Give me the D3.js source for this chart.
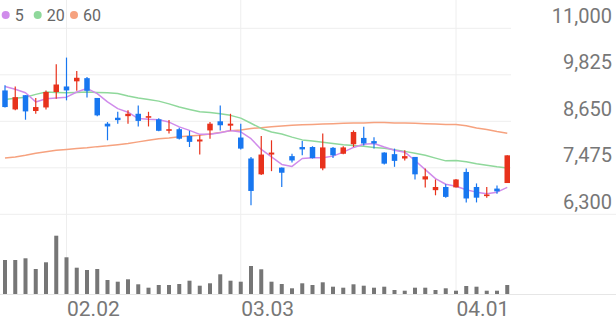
<!DOCTYPE html>
<html>
<head>
<meta charset="utf-8">
<script src="https://cdn.jsdelivr.net/npm/d3@7"></script>
<style>
    html, body { margin: 0; padding: 0; background: #fff; }
    svg { display: block; font-family: Roboto, "Noto Sans", sans-serif; }
</style>
</head>
<body>
<svg id="stock-chart"></svg>
<script>
/*--------------------------------------------------------------------------------
----- DAILY CANDLE CHART (price with moving averages + volume)
--------------------------------------------------------------------------------*/

// Trading days shown on the chart
const dates = [
    "01.23", "01.26", "01.27", "01.28", "01.29", "01.30",
    "02.02", "02.03", "02.04", "02.05", "02.06",
    "02.09", "02.10", "02.11", "02.12", "02.13",
    "02.19", "02.20",
    "02.23", "02.24", "02.25", "02.26", "02.27",
    "03.03", "03.04", "03.05", "03.06",
    "03.09", "03.10", "03.11", "03.12", "03.13",
    "03.16", "03.17", "03.18", "03.19", "03.20",
    "03.23", "03.24", "03.25", "03.26", "03.27",
    "03.30", "03.31",
    "04.01", "04.02", "04.03",
    "04.06", "04.07", "04.08"
];

// Daily prices (open, high, low, close)
const open_prices = [
    9430, 8950, 9310, 8910, 9000, 9390, 9530, 9660, 9740, 9240,
    8590, 8740, 8780, 8840, 8740, 8700, 8410, 8450, 8280, 8140,
    8420, 8650, 8540, 8240, 7710, 7310, 7810, 7480, 7770, 8000,
    8000, 7460, 7980, 7830, 8070, 8230, 8150, 7860, 7820, 7710,
    7750, 7180, 6910, 6990, 6980, 7370, 6990, 6760, 6950, 7090
];
const high_prices = [
    9560, 9530, 9310, 9240, 9430, 10090, 10260, 9920, 9770, 9240,
    8630, 8890, 8930, 9050, 8890, 8730, 8680, 8490, 8410, 8300,
    8630, 9050, 8840, 8590, 7750, 8280, 8170, 7480, 7830, 8150,
    8020, 8340, 8000, 8020, 8420, 8510, 8250, 7870, 7960, 7920,
    7750, 7460, 7180, 7060, 7190, 7460, 7080, 6990, 7030, 7790
];
const low_prices = [
    9000, 8930, 8690, 8840, 8950, 9220, 9180, 9420, 9250, 8780,
    8170, 8590, 8590, 8520, 8520, 8400, 8340, 8190, 8000, 7810,
    8210, 8420, 8420, 7940, 6530, 7290, 7390, 6990, 7610, 7790,
    7710, 7410, 7720, 7820, 8000, 8040, 7960, 7560, 7500, 7660,
    7180, 6980, 6780, 6720, 6980, 6600, 6600, 6720, 6820, 7090
];
const close_prices = [
    9010, 9260, 8900, 9010, 9390, 9580, 9430, 9750, 9420, 8800,
    8520, 8680, 8840, 8660, 8780, 8410, 8450, 8210, 8130, 8190,
    8590, 8550, 8590, 7960, 6890, 7810, 7860, 7350, 7660, 7940,
    7720, 7990, 7790, 7990, 8380, 8090, 8090, 7580, 7650, 7770,
    7310, 7260, 6990, 6740, 7180, 6700, 6720, 6800, 6880, 7790
];

// Daily traded volume (thousand shares)
const volumes = [
    680, 680, 714, 500, 634, 1166, 734, 526, 480, 500,
    280, 246, 294, 194, 126, 180, 180, 200, 266, 166,
    214, 394, 266, 246, 560, 494, 246, 200, 114, 214,
    180, 234, 146, 126, 194, 166, 126, 146, 80, 66,
    126, 126, 80, 114, 66, 160, 146, 66, 66, 180
];

// Moving averages (5, 20 and 60 days)
const ma5 = [
    9530, 9460, 9370, 9140, 9220, 9240, 9260, 9390, 9480, 9350,
    9140, 8970, 8880, 8720, 8700, 8690, 8630, 8510, 8420, 8320,
    8320, 8360, 8420, 8380, 8210, 7940, 7750, 7560, 7510, 7710,
    7730, 7730, 7770, 7870, 7990, 8070, 8090, 8000, 7920, 7870,
    7660, 7430, 7200, 7060, 7010, 6920, 6860, 6820, 6860, 6980
];
const ma20 = [
    9200, 9230, 9260, 9330, 9390, 9380, 9370, 9380, 9390, 9380,
    9370, 9350, 9290, 9240, 9200, 9160, 9090, 9010, 8950, 8890,
    8870, 8840, 8800, 8730, 8600, 8470, 8380, 8330, 8250, 8180,
    8150, 8120, 8090, 8060, 8040, 8020, 7990, 7970, 7930, 7890,
    7840, 7790, 7720, 7650, 7660, 7630, 7580, 7540, 7500, 7470
];
const ma60 = [
    7720, 7750, 7790, 7840, 7880, 7920, 7940, 7960, 7980, 8010,
    8030, 8060, 8090, 8130, 8170, 8210, 8230, 8260, 8280, 8300,
    8330, 8370, 8410, 8430, 8470, 8490, 8510, 8530, 8550, 8560,
    8570, 8580, 8590, 8600, 8610, 8610, 8620, 8620, 8610, 8610,
    8600, 8590, 8580, 8570, 8570, 8540, 8480, 8440, 8390, 8350
];

// Axis labels
const price_ticks = [11000, 9825, 8650, 7475, 6300];
const date_ticks = ["02.02", "03.03", "04.01"];

// Legend entries
const legend_labels = ["5", "20", "60"];
const legend_colors = ["#d08ceb", "#8fd89b", "#f6a27f"];
const ma_series = [ma5, ma20, ma60];

// Configure the dimensions of the chart
const chart_width = 616, chart_height = 321;
const plot_right = 511;
const price_top = 28.3, price_bottom = 214.3;
const volume_top = 235.7, volume_bottom = 294;

// Scales for dates, prices and volumes
const x_scale = d3.scalePoint()
    .domain(dates)
    .range([5, 507.25]);
const y_scale = d3.scaleLinear()
    .domain([6300, 11000])
    .range([price_bottom, price_top]);
const volume_scale = d3.scaleLinear()
    .domain([0, d3.max(volumes)])
    .range([volume_bottom, volume_top]);

// Create the svg container
const svg = d3.select("#stock-chart")
    .attr("width", chart_width)
    .attr("height", chart_height);

// Horizontal gridlines of the price area
svg.append("g")
    .selectAll("line")
    .data(price_ticks)
    .enter().append("line")
    .attr("x1", 0)
    .attr("x2", function (d) { return d === 6300 ? chart_width : plot_right; })
    .attr("y1", function (d) { return y_scale(d); })
    .attr("y2", function (d) { return y_scale(d); })
    .attr("stroke", "#eeeeee")
    .attr("stroke-width", 1);

// Baseline of the volume area
svg.append("line")
    .attr("x1", 0)
    .attr("x2", chart_width)
    .attr("y1", volume_bottom + 0.5)
    .attr("y2", volume_bottom + 0.5)
    .attr("stroke", "#e6e6e6")
    .attr("stroke-width", 1);

// Vertical gridlines at the month starts
svg.append("g")
    .selectAll("line")
    .data(date_ticks)
    .enter().append("line")
    .attr("x1", function (d) { return x_scale(d); })
    .attr("x2", function (d) { return x_scale(d); })
    .attr("y1", 0)
    .attr("y2", volume_bottom)
    .attr("stroke", "#eeeeee")
    .attr("stroke-width", 1);

// Price labels on the right side
svg.append("g")
    .selectAll("text")
    .data(price_ticks)
    .enter().append("text")
    .attr("x", 612)
    .attr("y", function (d) { return y_scale(d) - 5.5; })
    .attr("text-anchor", "end")
    .attr("font-size", 20)
    .attr("fill", "#777777")
    .text(function (d) { return d3.format(",")(d); });

// Date labels under the volume bars
svg.append("g")
    .selectAll("text")
    .data(date_ticks)
    .enter().append("text")
    .attr("x", function (d) { return x_scale(d) + 0.5; })
    .attr("y", 316)
    .attr("text-anchor", "start")
    .attr("font-size", 21)
    .attr("fill", "#777777")
    .text(function (d) { return d; });

// Volume bars
svg.append("g")
    .selectAll("rect")
    .data(dates)
    .enter().append("rect")
    .attr("x", function (d) { return x_scale(d) - 2; })
    .attr("y", function (d, i) { return volume_scale(volumes[i]); })
    .attr("width", 4)
    .attr("height", function (d, i) { return volume_bottom - volume_scale(volumes[i]); })
    .attr("fill", "#767676");

// Moving average lines (60 drawn first, 5 on top)
const ma_line = d3.line()
    .x(function (d, i) { return x_scale(dates[i]); })
    .y(function (d) { return y_scale(d); });

for (let k = ma_series.length - 1; k >= 0; k--) {
    svg.append("path")
        .datum(ma_series[k])
        .attr("fill", "none")
        .attr("stroke", legend_colors[k])
        .attr("stroke-width", 1.5)
        .attr("stroke-linejoin", "round")
        .attr("d", ma_line);
}

// Candles: red when the price rises, blue when it falls
const up_color = "#e8321c", down_color = "#1877f0";
const candles = svg.append("g")
    .selectAll("g")
    .data(dates)
    .enter().append("g");

candles.append("line")
    .attr("x1", function (d) { return x_scale(d); })
    .attr("x2", function (d) { return x_scale(d); })
    .attr("y1", function (d, i) { return y_scale(high_prices[i]); })
    .attr("y2", function (d, i) { return y_scale(low_prices[i]); })
    .attr("stroke", function (d, i) { return close_prices[i] >= open_prices[i] ? up_color : down_color; })
    .attr("stroke-width", 1.2);

candles.append("rect")
    .attr("x", function (d) { return x_scale(d) - 2.75; })
    .attr("y", function (d, i) { return y_scale(Math.max(open_prices[i], close_prices[i])); })
    .attr("width", 5.5)
    .attr("height", function (d, i) {
        return Math.max(1.5, Math.abs(y_scale(open_prices[i]) - y_scale(close_prices[i])));
    })
    .attr("fill", function (d, i) { return close_prices[i] >= open_prices[i] ? up_color : down_color; });

// Legend in the top left corner
const legend_x = [5.7, 37.7, 74];
const legend = svg.append("g")
    .selectAll("g")
    .data(legend_labels)
    .enter().append("g")
    .attr("transform", function (d, i) { return "translate(" + legend_x[i] + ",15)"; });

legend.append("circle")
    .attr("r", 4)
    .attr("fill", function (d, i) { return legend_colors[i]; });

legend.append("text")
    .attr("x", 9)
    .attr("y", 5.5)
    .attr("font-size", 16)
    .attr("fill", "#666666")
    .text(function (d) { return d; });
</script>
</body>
</html>
